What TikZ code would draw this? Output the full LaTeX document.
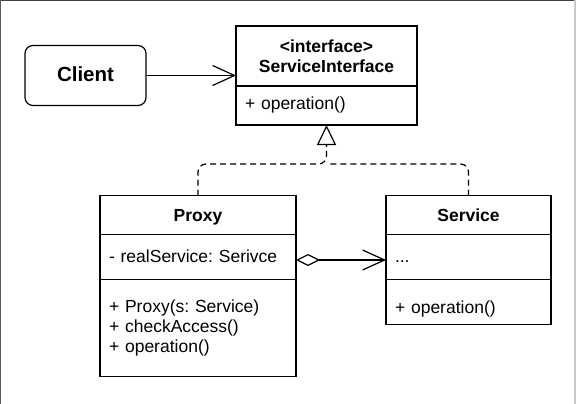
\documentclass[tikz,border=0pt]{standalone}
\usepackage{fontspec}
\setmainfont{Liberation Sans}
\usetikzlibrary{arrows.meta,positioning}
\frenchspacing

\begin{document}
\begin{tikzpicture}[
  x=1pt, y=-1pt,
  font=\fontsize{17.5}{20}\selectfont,
  line width=1.2pt,
  actor/.style={
    rectangle,
    rounded corners=8pt,
    draw=black,
    minimum width=121pt,
    minimum height=60pt,
    text height=15pt,
    text depth=2.6pt,
    font=\fontsize{20.5}{24}\selectfont\bfseries
  },
  part/.style={
    rectangle,
    draw=black,
    outer sep=0pt,
    inner xsep=9pt,
    inner ysep=0pt,
    text width=#1,
    align=left
  },
  head/.style={part=#1, align=center, font=\fontsize{17.5}{20}\selectfont\bfseries},
  title/.style={head=#1, text height=17pt, text depth=3.5pt},
  assoc/.style={-{Straight Barb[length=22pt, width=20pt]}},
  aggr/.style={{Diamond[open, length=24pt, width=12pt]}-{Straight Barb[length=22pt, width=20pt]}},
  realize/.style={-{Triangle[open, length=20pt, width=19pt]}, dash pattern=on 6pt off 4pt, rounded corners=8pt}
]
  \useasboundingbox (0,0) rectangle (576,404);
  % window frame
  \draw[line width=1.4pt, draw=black!75] (0,0.7) -- (576,0.7);
  \draw[line width=1.4pt, draw=black!65] (0.7,0) -- (0.7,404);
  \draw[line width=1.2pt, draw=black!22] (575,0) -- (575,404);

  \node[actor] (client) at (85.5,75.5) {Client};

  \node[head=163pt, minimum height=60pt, anchor=north west] (sihead) at (236,26) {<interface>\\ServiceInterface};
  \node[part=163pt, minimum height=39pt, text height=13pt, text depth=4pt, below=0pt of sihead] (siops) {+ operation()};

  \node[title=178pt, minimum height=39pt, anchor=north west] (proxy) at (100,195.5) {Proxy};
  \node[part=178pt, minimum height=45pt, text height=15pt, text depth=4pt, below=0pt of proxy] (proxyattr) {- realService: Serivce};
  \node[part=178pt, minimum height=97pt, below=0pt of proxyattr] (proxyops) {+ Proxy(s: Service)\\+ checkAccess()\\+ operation()};

  \node[title=147pt, minimum height=39pt, right=90pt of proxy] (service) {Service};
  \node[part=147pt, minimum height=45pt, text height=15pt, text depth=4pt, below=0pt of service] (serviceattr) {...};
  \node[part=147pt, minimum height=45pt, text height=26pt, text depth=4pt, below=0pt of serviceattr] (serviceops) {+ operation()};

  \draw[assoc] (client.east) -- (client.east -| sihead.west);
  \draw[aggr] ([yshift=-3pt]proxyattr.east) -- ([yshift=-3pt]serviceattr.west);

  \coordinate (join) at (326.5,164);
  \draw[realize] (proxy.north) |- (join) -- (siops.south);
  \draw[realize, -] (service.north) |- (join);
\end{tikzpicture}
\end{document}
